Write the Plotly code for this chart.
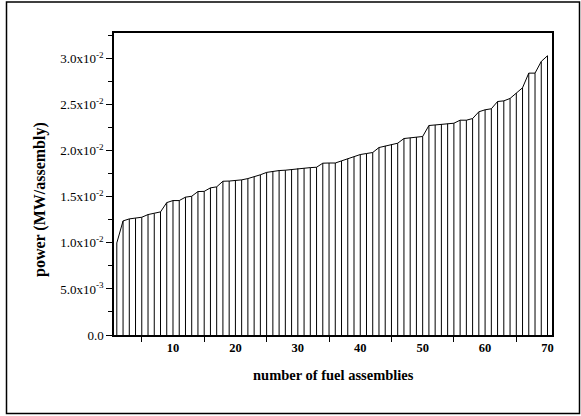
import plotly.graph_objects as go

assembly = list(range(1, 71))
power = [
    1.000, 1.239, 1.261, 1.268, 1.279, 1.308, 1.319, 1.337, 1.438, 1.460,
    1.460, 1.497, 1.507, 1.558, 1.560, 1.598, 1.609, 1.670, 1.672, 1.675,
    1.685, 1.699, 1.718, 1.740, 1.766, 1.778, 1.786, 1.790, 1.797, 1.810,
    1.813, 1.818, 1.822, 1.866, 1.868, 1.868, 1.891, 1.913, 1.935, 1.960,
    1.971, 1.982, 2.036, 2.054, 2.069, 2.083, 2.134, 2.141, 2.149, 2.156,
    2.275, 2.281, 2.288, 2.295, 2.300, 2.333, 2.333, 2.351, 2.424, 2.446,
    2.457, 2.536, 2.543, 2.569, 2.627, 2.685, 2.844, 2.844, 2.971, 3.033,
]
power = [v * 1e-2 for v in power]

ytick_vals = [0, 0.005, 0.010, 0.015, 0.020, 0.025, 0.030]
ytick_text = ["0.0", "5.0x10<sup>-3</sup>", "1.0x10<sup>-2</sup>", "1.5x10<sup>-2</sup>",
              "2.0x10<sup>-2</sup>", "2.5x10<sup>-2</sup>", "3.0x10<sup>-2</sup>"]
xtick_vals = [10, 20, 30, 40, 50, 60, 70]
x_title = "number of fuel assemblies"
y_title = "power (MW/assembly)"

W, H = 581, 416
L, R, T, B = 114, 29, 33, 81

fig = go.Figure()
fig.add_trace(go.Scatter(
    x=assembly, y=power, mode="lines",
    line=dict(color="black", width=1),
    error_y=dict(type="data", symmetric=False, array=[0] * len(power),
                 arrayminus=power, width=0, thickness=1, color="black"),
    hoverinfo="x+y", showlegend=False,
))

serif = "Liberation Serif, Times New Roman, serif"
fig.update_layout(
    width=W, height=H,
    margin=dict(l=L, r=R, t=T, b=B, pad=0),
    paper_bgcolor="white", plot_bgcolor="white",
    font=dict(family=serif, color="black", size=12),
    xaxis=dict(
        range=[0.55, 70.72], showgrid=False, zeroline=False,
        showline=True, linecolor="black", linewidth=1.5, mirror=True,
        tickmode="array", tickvals=xtick_vals, ticks="",
        tickfont=dict(family=serif, size=12.5, color="black", weight="bold"),
        minor=dict(tickmode="linear", tick0=5, dtick=10, ticks="outside",
                   ticklen=5, tickwidth=1, tickcolor="black", showgrid=False),
    ),
    yaxis=dict(
        range=[0, 0.0328], showgrid=False, zeroline=False,
        showline=True, linecolor="black", linewidth=1.5, mirror=True,
        tickmode="array", tickvals=ytick_vals, ticktext=ytick_text,
        ticks="outside", ticklen=6, tickwidth=1, tickcolor="black",
        tickfont=dict(family=serif, size=13, color="black"),
        minor=dict(tickmode="linear", tick0=0.0025, dtick=0.005, ticks="outside",
                   ticklen=4, tickwidth=1, tickcolor="black", showgrid=False),
    ),
)

pw, ph = W - L - R, H - T - B
def px_x(p):
    return (p - L) / pw
def px_y(p):
    return (H - B - p) / ph

fig.add_annotation(text="<b>" + x_title + "</b>", xref="paper", yref="paper",
                   x=px_x(333), y=px_y(375), showarrow=False,
                   xanchor="center", yanchor="middle",
                   font=dict(family=serif, size=14.5, color="black"))
fig.add_annotation(text="<b>" + y_title + "</b>", xref="paper", yref="paper",
                   x=px_x(40), y=px_y(200), showarrow=False, textangle=-90,
                   xanchor="center", yanchor="middle",
                   font=dict(family=serif, size=16, color="black"))

fig.add_shape(type="rect", xref="paper", yref="paper",
              x0=px_x(6.5), x1=px_x(579.5), y0=px_y(413.5), y1=px_y(2),
              line=dict(color="black", width=1.5), fillcolor="rgba(0,0,0,0)", layer="below")

fig.write_html("out.html")
